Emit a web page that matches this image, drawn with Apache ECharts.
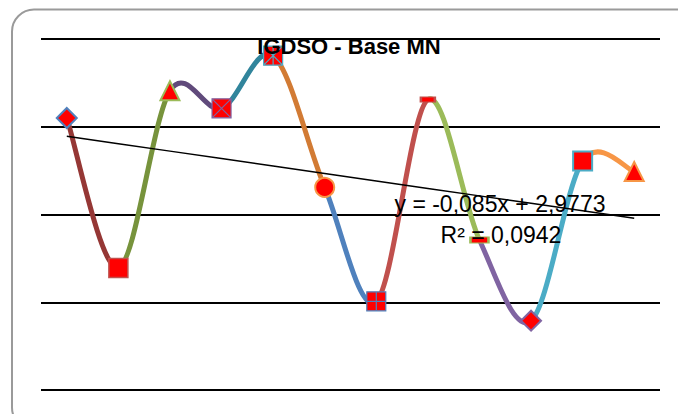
<!DOCTYPE html>
<html>
<head>
<meta charset="utf-8">
<title>IGDSO - Base MN</title>
<script src="https://cdn.jsdelivr.net/npm/echarts@6/dist/echarts.min.js"></script>
<style>
  html, body { margin: 0; padding: 0; background: #ffffff; }
  #chart { width: 678px; height: 414px; }
</style>
</head>
<body>
<div id="chart"></div>
<script>
// Monthly index values (x = 1..12)
const categories = ['1', '2', '3', '4', '5', '6', '7', '8', '9', '10', '11', '12'];
const values = [3.10, 1.39, 3.41, 3.21, 3.81, 2.31, 1.01, 3.31, 1.71, 0.79, 2.61, 2.49];

// Linear trend as printed on the chart
const trendSlope = -0.085;
const trendIntercept = 2.9773;
const trendR2 = 0.0942;

// Y axis ticks
const yTicks = [0, 1, 2, 3, 4];

// Colours of each curve segment and of each marker outline
const segmentColors = ['#953735', '#77933C', '#604A7B', '#31859C', '#D27B34', '#4F81BD',
                       '#C0504D', '#9BBB59', '#8064A2', '#4BACC6', '#F79646'];
const markerBorders = ['#4F81BD', '#C0504D', '#9BBB59', '#8064A2', '#4BACC6', '#F79646',
                       '#4F81BD', '#C0504D', '#9BBB59', '#8064A2', '#4BACC6', '#F79646'];

const SQ = 'M0,0H10V10H0Z';
const markerShapes = [
  { symbol: 'diamond', size: 20, bw: 2 },
  { symbol: 'rect', size: 19, bw: 1.5 },
  { symbol: 'triangle', size: [19, 19], bw: 2 },
  { symbol: 'path://' + SQ + 'M0,0L10,10M10,0L0,10', size: 19, bw: 1.2 },
  { symbol: 'path://' + SQ + 'M0,0L10,10M10,0L0,10M5,0L5,10', size: 19, bw: 1.2 },
  { symbol: 'circle', size: 19, bw: 2 },
  { symbol: 'path://' + SQ + 'M5,0L5,10M0,5L10,5', size: 19, bw: 1.2 },
  { symbol: 'rect', size: [14, 5], bw: 1.5 },
  { symbol: 'rect', size: [18, 6], bw: 1.5 },
  { symbol: 'diamond', size: 20, bw: 2 },
  { symbol: 'rect', size: 19, bw: 2 },
  { symbol: 'triangle', size: [19, 19], bw: 2 }
];

const fmt = (v, d) => v.toFixed(d).replace('.', ',');
const sign = trendIntercept >= 0 ? ' + ' : ' - ';
const equationText = 'y = ' + fmt(trendSlope, 3) + 'x' + sign + fmt(Math.abs(trendIntercept), 4);
const r2Text = 'R² = ' + fmt(trendR2, 4);

const trendValues = categories.map((c, i) => trendIntercept + trendSlope * (i + 1));

const markerData = values.map((v, i) => ({
  value: v,
  symbol: markerShapes[i].symbol,
  symbolSize: markerShapes[i].size,
  itemStyle: { color: '#FF0000', opacity: 1, borderColor: markerBorders[i], borderWidth: markerShapes[i].bw }
}));

// Smoothed curve: one cubic Bezier per segment (Catmull-Rom style tangents),
// each segment stroked in its own colour.
function renderSegment(params, api) {
  const n = values.length;
  const i = params.dataIndexInside;
  if (i >= n - 1) return null;
  const pt = k => {
    const kk = Math.max(0, Math.min(n - 1, k));
    return api.coord([api.value(0, kk), api.value(1, kk)]);
  };
  const p0 = pt(i - 1), p1 = pt(i), p2 = pt(i + 1), p3 = pt(i + 2);
  return {
    type: 'bezierCurve',
    shape: {
      x1: p1[0], y1: p1[1],
      cpx1: p1[0] + (p2[0] - p0[0]) / 6, cpy1: p1[1] + (p2[1] - p0[1]) / 6,
      cpx2: p2[0] - (p3[0] - p1[0]) / 6, cpy2: p2[1] - (p3[1] - p1[1]) / 6,
      x2: p2[0], y2: p2[1]
    },
    style: { stroke: segmentColors[i], lineWidth: 5, fill: null, lineCap: 'round' }
  };
}

const chart = echarts.init(document.getElementById('chart'), null, { renderer: 'svg' });

chart.setOption({
  animation: false,
  backgroundColor: '#ffffff',
  title: {
    text: 'IGDSO - Base MN',
    left: 349,
    top: 35,
    textAlign: 'center',
    textStyle: { fontFamily: 'Liberation Sans', fontSize: 22, fontWeight: 'bold', color: '#000000' },
    padding: 0
  },
  grid: { left: 41, right: 18, top: 39, bottom: 24 },
  xAxis: {
    type: 'category',
    data: categories,
    axisLine: { show: false },
    axisTick: { show: false },
    axisLabel: { show: false },
    splitLine: { show: false }
  },
  yAxis: {
    type: 'value',
    min: yTicks[0],
    max: yTicks[yTicks.length - 1],
    interval: 1,
    axisLine: { show: false },
    axisTick: { show: false },
    axisLabel: { show: false },
    splitLine: { show: true, lineStyle: { color: '#000000', width: 2 } }
  },
  series: [
    {
      type: 'custom',
      data: values.map((v, i) => [i, v]),
      renderItem: renderSegment,
      clip: false,
      z: 2
    },
    {
      type: 'line',
      data: trendValues,
      symbol: 'none',
      lineStyle: { color: '#000000', width: 1.5 },
      z: 3
    },
    {
      type: 'scatter',
      data: markerData,
      z: 4
    }
  ],
  graphic: [
    {
      type: 'rect',
      shape: { x: 12, y: 9.5, width: 690, height: 420, r: 22 },
      style: { fill: 'none', stroke: '#9a9a9a', lineWidth: 2 },
      z: 0
    },
    {
      type: 'text',
      x: 500, y: 204,
      style: {
        text: equationText, fill: '#000000',
        font: '23px "Liberation Sans"', textAlign: 'center', textVerticalAlign: 'middle'
      },
      z: 10
    },
    {
      type: 'text',
      x: 501, y: 235,
      style: {
        text: r2Text, fill: '#000000',
        font: '23px "Liberation Sans"', textAlign: 'center', textVerticalAlign: 'middle'
      },
      z: 10
    }
  ]
});
</script>
</body>
</html>
